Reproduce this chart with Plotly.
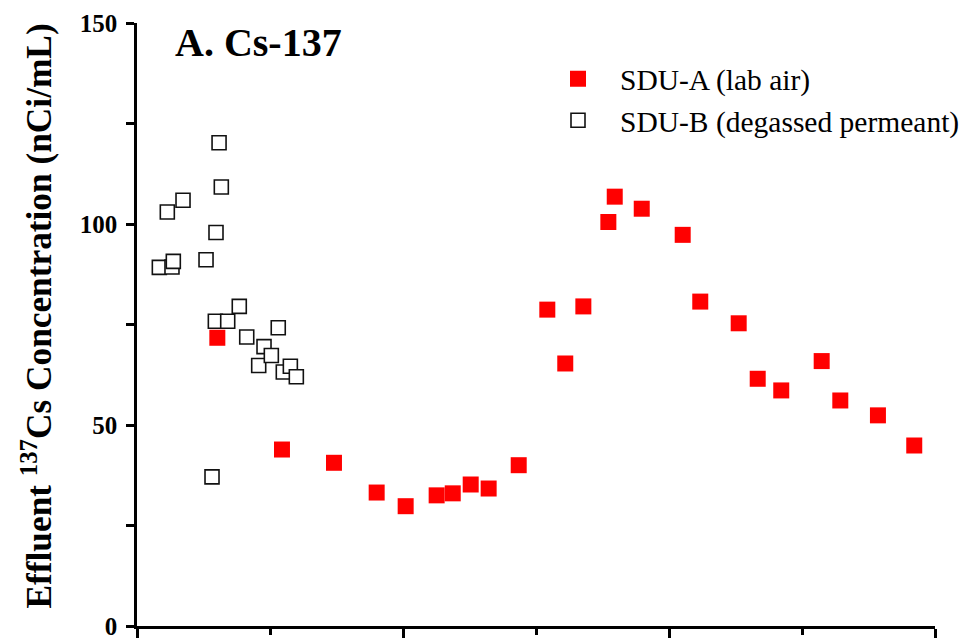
import plotly.graph_objects as go

# Effluent Cs-137 concentration (nCi/mL) versus run time for the two SDU configurations
sdu_a_time = [6.04, 10.90, 14.81, 18.02, 20.20, 22.53, 23.74, 25.09, 26.44, 28.70,
              30.85, 32.20, 33.56, 35.44, 35.92, 37.95, 41.03, 42.35, 45.24, 46.67,
              48.44, 51.48, 52.88, 55.71, 58.44]
sdu_a_cs137 = [71.7, 43.9, 40.6, 33.2, 29.8, 32.5, 33.0, 35.2, 34.2, 40.0,
               78.7, 65.3, 79.5, 100.5, 106.8, 103.8, 97.3, 80.7, 75.3, 61.5,
               58.6, 65.9, 56.1, 52.4, 44.9]

sdu_b_time = [1.68, 2.28, 2.63, 2.73, 3.46, 5.19, 5.64, 5.89, 5.94, 6.17, 6.34,
              6.82, 7.69, 8.25, 9.15, 9.55, 10.10, 10.62, 11.00, 11.53, 11.98]
sdu_b_cs137 = [89.2, 103.0, 89.3, 90.7, 105.9, 91.1, 37.1, 75.8, 97.9, 120.2, 109.2,
               75.8, 79.5, 71.9, 64.8, 69.5, 67.3, 74.2, 63.2, 64.6, 62.0]

y_ticks = [0, 50, 100, 150]
y_tick_labels = ["0", "50", "100", "150"]

SERIF = "Liberation Serif, Times New Roman, serif"

fig = go.Figure()
fig.add_trace(go.Scatter(
    x=sdu_a_time, y=sdu_a_cs137, mode="markers", name="SDU-A (lab air)",
    marker=dict(symbol="square", size=16, color="#ff0000", line=dict(width=0)),
    cliponaxis=False,
))
fig.add_trace(go.Scatter(
    x=sdu_b_time, y=sdu_b_cs137, mode="markers", name="SDU-B (degassed permeant)",
    marker=dict(symbol="square", size=14, color="white",
                line=dict(color="#111111", width=1.6)),
    cliponaxis=False,
))

fig.update_layout(
    width=965, height=638,
    margin=dict(l=137, r=30, t=23, b=12, autoexpand=False),
    paper_bgcolor="white", plot_bgcolor="white",
    font=dict(family=SERIF, color="black"),
    showlegend=True,
    legend=dict(
        x=0.5, y=0.95, xanchor="left", yanchor="top",
        font=dict(family=SERIF, size=29.5, color="black"),
        bgcolor="rgba(0,0,0,0)", borderwidth=0, itemwidth=74,
        tracegroupgap=0,
    ),
    xaxis=dict(
        range=[0, 60], tick0=0, dtick=20, showticklabels=False, automargin=False,
        ticks="outside", ticklen=10, tickwidth=2.5, tickcolor="black",
        minor=dict(dtick=10, ticks="outside", ticklen=6, tickwidth=2.5, tickcolor="black"),
        showline=True, linecolor="black", linewidth=2.5,
        showgrid=False, zeroline=False,
    ),
    yaxis=dict(
        range=[0, 150], tickmode="array", tickvals=y_ticks, ticktext=y_tick_labels,
        automargin=False, ticklabeloverflow="allow", ticklabelstandoff=4,
        ticks="outside", ticklen=8, tickwidth=2.5, tickcolor="black",
        tickfont=dict(family=SERIF, size=25, color="black", weight="bold"),
        minor=dict(dtick=25, ticks="outside", ticklen=8, tickwidth=2.5, tickcolor="black"),
        showline=True, linecolor="black", linewidth=2.5,
        showgrid=False, zeroline=False,
    ),
    annotations=[
        dict(
            text="A. Cs-137", xref="paper", yref="paper", x=0.0455, y=0.967,
            xanchor="left", yanchor="middle", showarrow=False,
            font=dict(family=SERIF, size=40, color="black", weight="bold"),
        ),
        dict(
            text="Effluent <sup>137</sup>Cs Concentration (nCi/mL)",
            xref="paper", yref="paper", x=0, y=0.5, xshift=-100, yshift=8,
            xanchor="center", yanchor="middle", textangle=-90, showarrow=False,
            font=dict(family=SERIF, size=35.3, color="black", weight="bold"),
        ),
    ],
)

fig.write_html("out.html")
